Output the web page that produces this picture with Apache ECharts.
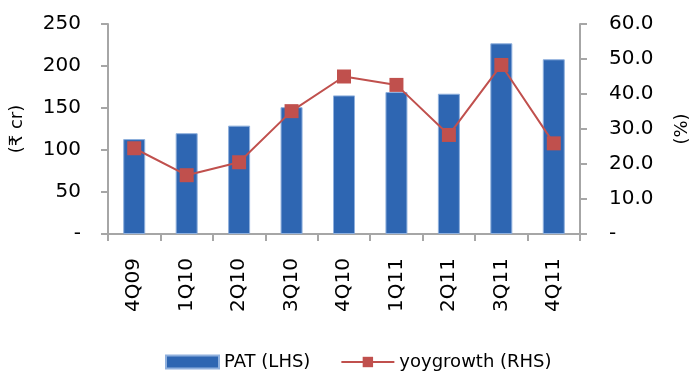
<!DOCTYPE html>
<html>
<head>
<meta charset="utf-8">
<script src="https://cdn.jsdelivr.net/npm/echarts@6/dist/echarts.min.js"></script>
<style>
  html, body { margin: 0; padding: 0; background: #fff; overflow: hidden; }
  #chart1 { position: absolute; left: 0; top: 0; width: 699px; height: 379px; }
</style>
</head>
<body>
<div id="chart1"></div>
<script>
var quarters = ['4Q09', '1Q10', '2Q10', '3Q10', '4Q10', '1Q11', '2Q11', '3Q11', '4Q11'];
var patValues = [113, 120, 129, 151, 165, 169, 167, 227, 208];
var yoyValues = [24.5, 16.8, 20.5, 35.1, 45.0, 42.6, 28.3, 48.3, 25.9];

var font = '"DejaVu Sans", sans-serif';
var axisGrey = '#A6A6A6';

var myChart = echarts.init(document.getElementById('chart1'), null, { width: 699, height: 379 });

myChart.setOption({
    animation: false,
    textStyle: { fontFamily: font },
    grid: { left: 106, right: 111, top: 24, bottom: 145, containLabel: false },
    legend: {
        bottom: 3,
        left: 160,
        itemGap: 30,
        itemWidth: 53,
        itemHeight: 13,
        textStyle: { fontSize: 18, color: '#000', fontFamily: font },
        data: [
            { name: 'PAT (LHS)', icon: 'rect' },
            { name: 'yoygrowth (RHS)' }
        ]
    },
    xAxis: {
        type: 'category',
        data: quarters,
        axisLine: { lineStyle: { color: axisGrey, width: 2 } },
        axisTick: { show: true, length: 7, lineStyle: { color: axisGrey, width: 2 } },
        axisLabel: { rotate: 90, margin: 24, fontSize: 20, color: '#000' }
    },
    yAxis: [
        {
            type: 'value',
            min: 0, max: 250, interval: 50,
            name: '(₹ cr)',
            nameLocation: 'middle',
            nameGap: 82,
            nameRotate: 90,
            nameTextStyle: { fontSize: 18, color: '#000' },
            splitLine: { show: false },
            axisLine: { show: true, lineStyle: { color: axisGrey, width: 2 } },
            axisTick: { show: true, length: 7, lineStyle: { color: axisGrey, width: 2 } },
            axisLabel: {
                fontSize: 20, color: '#000', margin: 27,
                formatter: function (v) { return v === 0 ? '-' : v; }
            }
        },
        {
            type: 'value',
            min: 0, max: 60, interval: 10,
            name: '(%)',
            nameLocation: 'middle',
            nameGap: 93,
            nameRotate: 90,
            nameTextStyle: { fontSize: 18, color: '#000' },
            splitLine: { show: false },
            axisLine: { show: true, lineStyle: { color: axisGrey, width: 2 } },
            axisTick: { show: true, length: 7, lineStyle: { color: axisGrey, width: 2 } },
            axisLabel: {
                fontSize: 20, color: '#000', margin: 29,
                formatter: function (v) { return v === 0 ? '-' : v.toFixed(1); }
            }
        }
    ],
    series: [
        {
            name: 'PAT (LHS)',
            type: 'bar',
            yAxisIndex: 0,
            barWidth: 22,
            data: patValues,
            itemStyle: { color: '#2E66B2', borderColor: '#8FB0DD', borderWidth: 1 }
        },
        {
            name: 'yoygrowth (RHS)',
            type: 'line',
            yAxisIndex: 1,
            data: yoyValues,
            symbol: 'rect',
            symbolSize: 14,
            lineStyle: { color: '#C0504D', width: 2 },
            itemStyle: { color: '#C0504D' }
        }
    ]
});
</script>
</body>
</html>
